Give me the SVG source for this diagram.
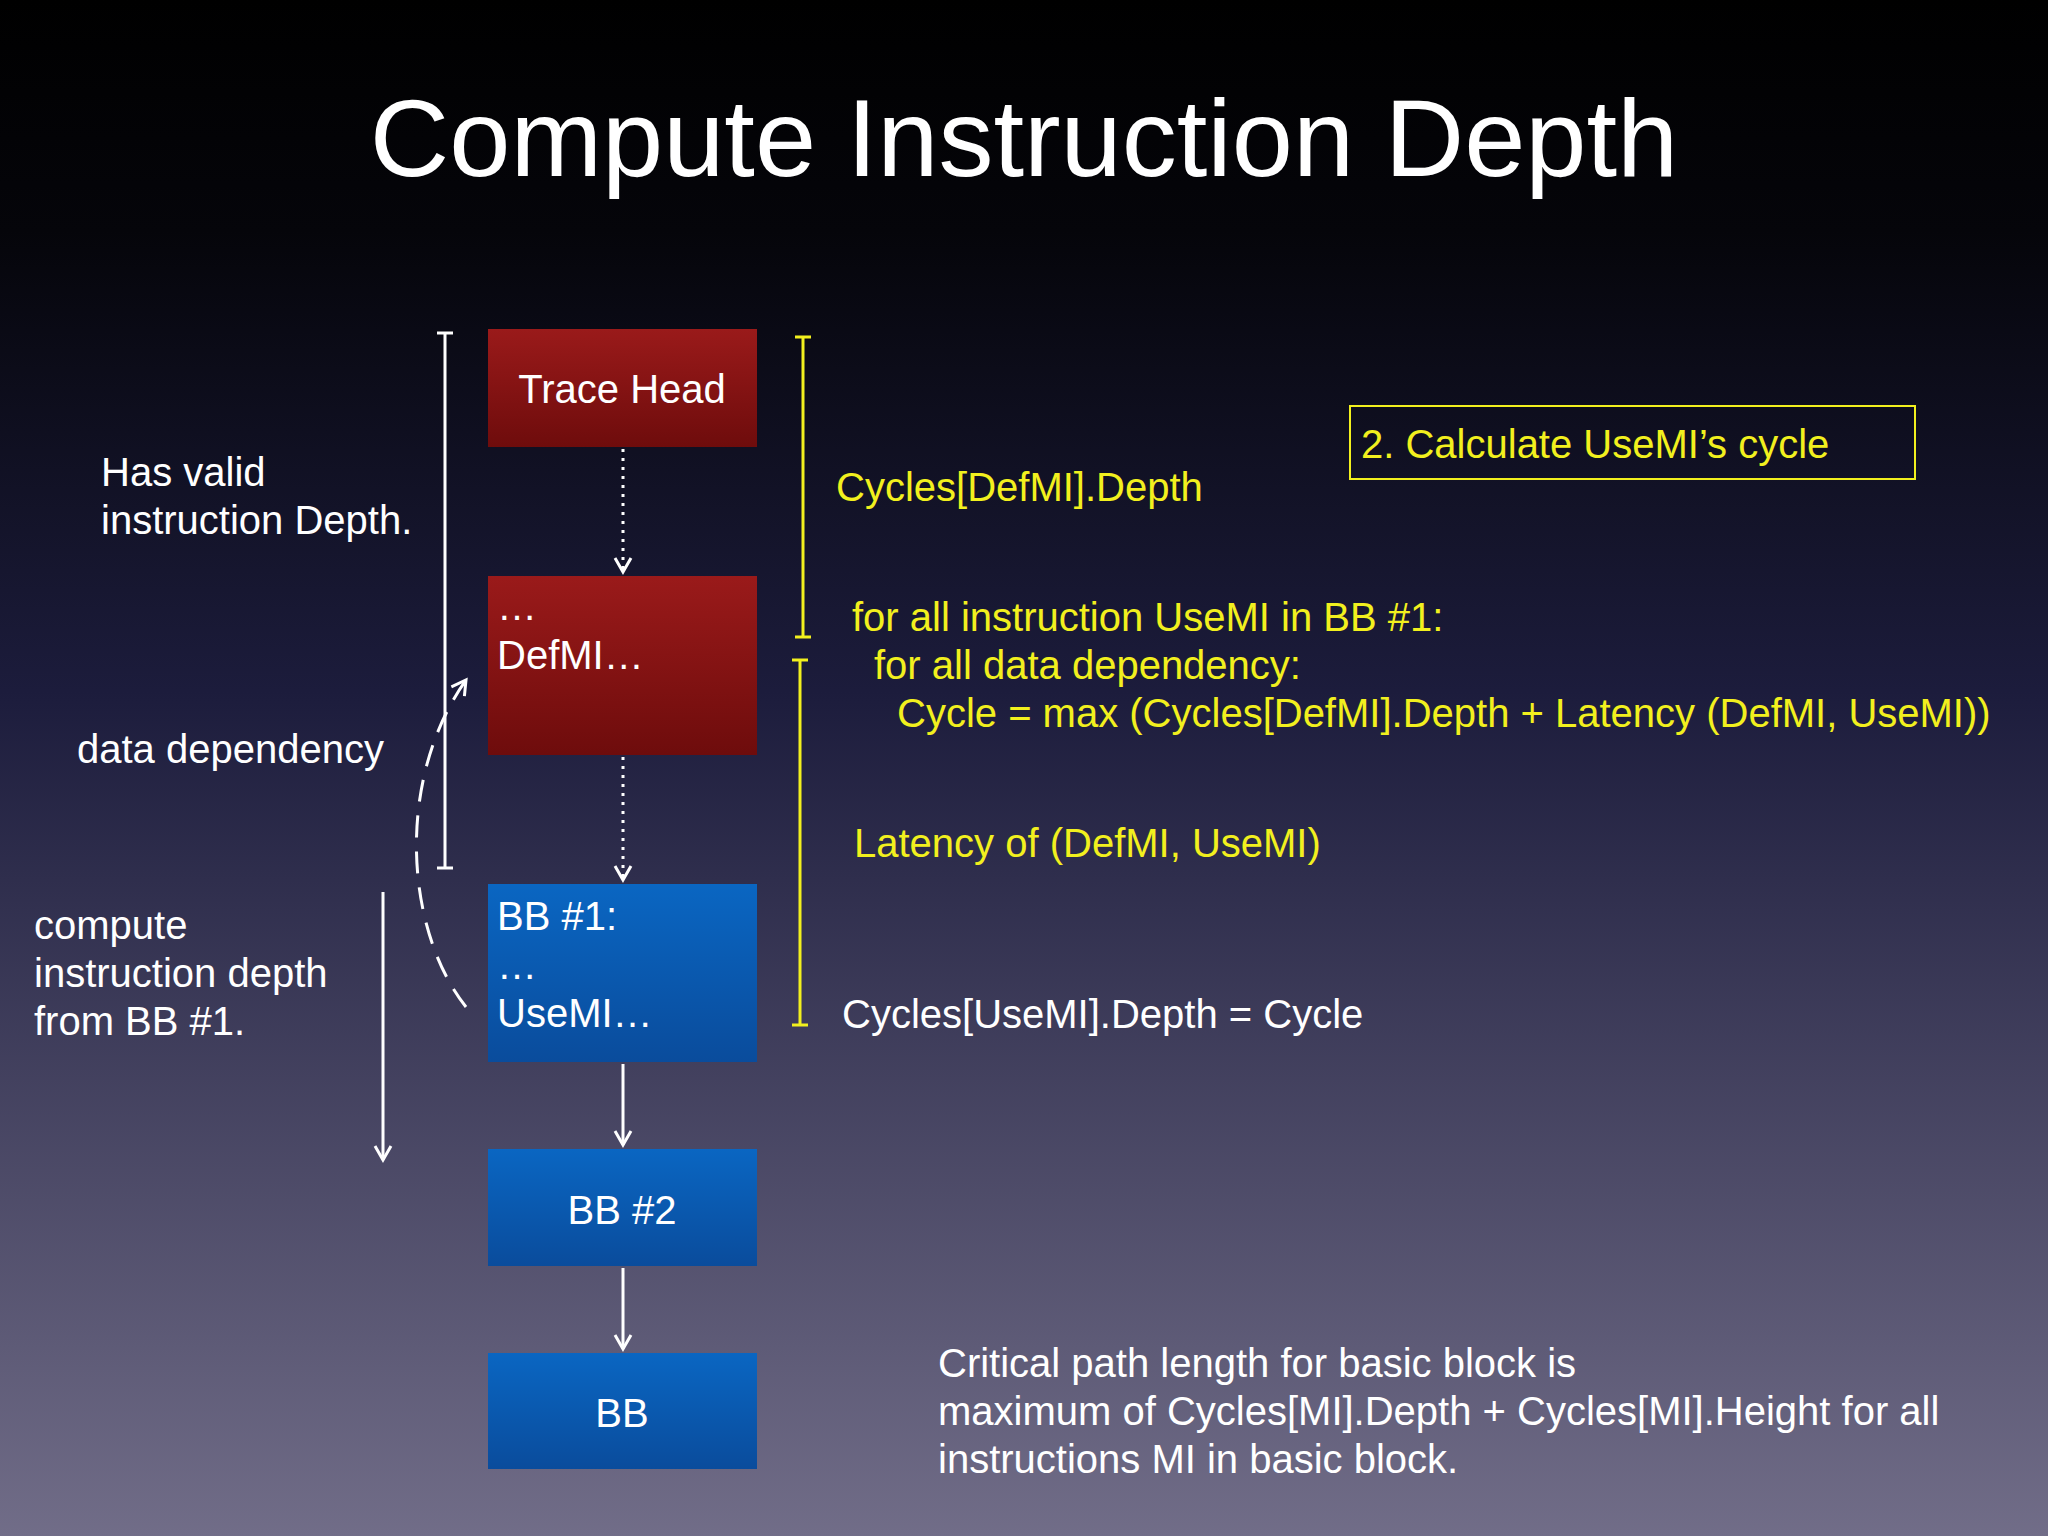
<svg xmlns="http://www.w3.org/2000/svg" width="2048" height="1536" viewBox="0 0 2048 1536">
<defs>
<linearGradient id="bg" x1="0" y1="0" x2="0" y2="1">
<stop offset="0" stop-color="#000000"/><stop offset="0.15" stop-color="#05050a"/><stop offset="0.45" stop-color="#1c1c3c"/><stop offset="1" stop-color="#716d88"/>
</linearGradient>
<linearGradient id="red" x1="0" y1="0" x2="0" y2="1"><stop offset="0" stop-color="#9a1a1a"/><stop offset="1" stop-color="#6e0c0c"/></linearGradient>
<linearGradient id="blue" x1="0" y1="0" x2="0" y2="1"><stop offset="0" stop-color="#0a66c2"/><stop offset="1" stop-color="#0a4c9c"/></linearGradient>
<marker id="ah2" viewBox="0 0 20 20" refX="16" refY="10" markerWidth="20" markerHeight="20" markerUnits="userSpaceOnUse" orient="auto"><path d="M2,2 L16,10 L2,18" fill="none" stroke="#fff" stroke-width="3"/></marker>
</defs>
<style>
text{font-family:"Liberation Sans","Helvetica",sans-serif;}
.w{fill:#fff;font-size:40px;}
.y{fill:#f2f01e;font-size:40px;}
.b{fill:#fff;font-size:40px;}
.c{text-anchor:middle;}
.ln{stroke:#fff;stroke-width:3;fill:none;}
.yl{stroke:#f2f01e;stroke-width:3;fill:none;}
</style>
<rect width="2048" height="1536" fill="url(#bg)"/>
<text x="1024" y="176" class="c" fill="#fff" font-size="110" font-family="Liberation Sans, sans-serif">Compute Instruction Depth</text>

<g id="trace-head"><rect x="488" y="329" width="269" height="118" fill="url(#red)"/><text x="622" y="403" class="b c">Trace Head</text></g>
<g id="defmi"><rect x="488" y="576" width="269" height="179" fill="url(#red)"/><text x="497" y="620" class="b">…</text><text x="497" y="669" class="b">DefMI…</text></g>
<g id="bb1"><rect x="488" y="884" width="269" height="178" fill="url(#blue)"/><text x="497" y="930" class="b">BB #1:</text><text x="497" y="979" class="b">…</text><text x="497" y="1027" class="b">UseMI…</text></g>
<g id="bb2"><rect x="488" y="1149" width="269" height="117" fill="url(#blue)"/><text x="622" y="1224" class="b c">BB #2</text></g>
<g id="bb"><rect x="488" y="1353" width="269" height="116" fill="url(#blue)"/><text x="622" y="1427" class="b c">BB</text></g>

<g id="connectors">
<line x1="623" y1="449" x2="623" y2="572" class="ln" stroke-dasharray="3 6" marker-end="url(#ah2)"/>
<line x1="623" y1="757" x2="623" y2="880" class="ln" stroke-dasharray="3 6" marker-end="url(#ah2)"/>
<line x1="623" y1="1064" x2="623" y2="1145" class="ln" marker-end="url(#ah2)"/>
<line x1="623" y1="1268" x2="623" y2="1349" class="ln" marker-end="url(#ah2)"/>
<path d="M466,1007 C405,930 395,780 466,680" class="ln" stroke-dasharray="22 14" marker-end="url(#ah2)"/>
<line x1="383" y1="892" x2="383" y2="1160" class="ln" marker-end="url(#ah2)"/>
<path d="M445,333 V868 M437,333 H453 M437,868 H453" class="ln"/>
<path d="M803,337 V637 M795,337 H811 M795,637 H811" class="yl"/>
<path d="M800,660 V1025 M792,660 H808 M792,1025 H808" class="yl"/>
</g>

<text x="101" y="486" class="w">Has valid</text>
<text x="101" y="534" class="w">instruction Depth.</text>
<text x="77" y="763" class="w">data dependency</text>
<text x="34" y="939" class="w">compute</text>
<text x="34" y="987" class="w">instruction depth</text>
<text x="34" y="1035" class="w">from BB #1.</text>

<text x="836" y="501" class="y">Cycles[DefMI].Depth</text>
<g id="step"><rect x="1350" y="406" width="565" height="73" fill="none" stroke="#f2f01e" stroke-width="2"/><text x="1361" y="458" class="y" font-size="47">2. Calculate UseMI’s cycle</text></g>
<text x="852" y="631" class="y">for all instruction UseMI in BB #1:</text>
<text x="874" y="679" class="y">for all data dependency:</text>
<text x="897" y="727" class="y">Cycle = max (Cycles[DefMI].Depth + Latency (DefMI, UseMI))</text>
<text x="854" y="857" class="y">Latency of (DefMI, UseMI)</text>
<text x="842" y="1028" class="w">Cycles[UseMI].Depth = Cycle</text>
<text x="938" y="1377" class="w">Critical path length for basic block is</text>
<text x="938" y="1425" class="w">maximum of Cycles[MI].Depth + Cycles[MI].Height for all</text>
<text x="938" y="1473" class="w">instructions MI in basic block.</text>
</svg>
